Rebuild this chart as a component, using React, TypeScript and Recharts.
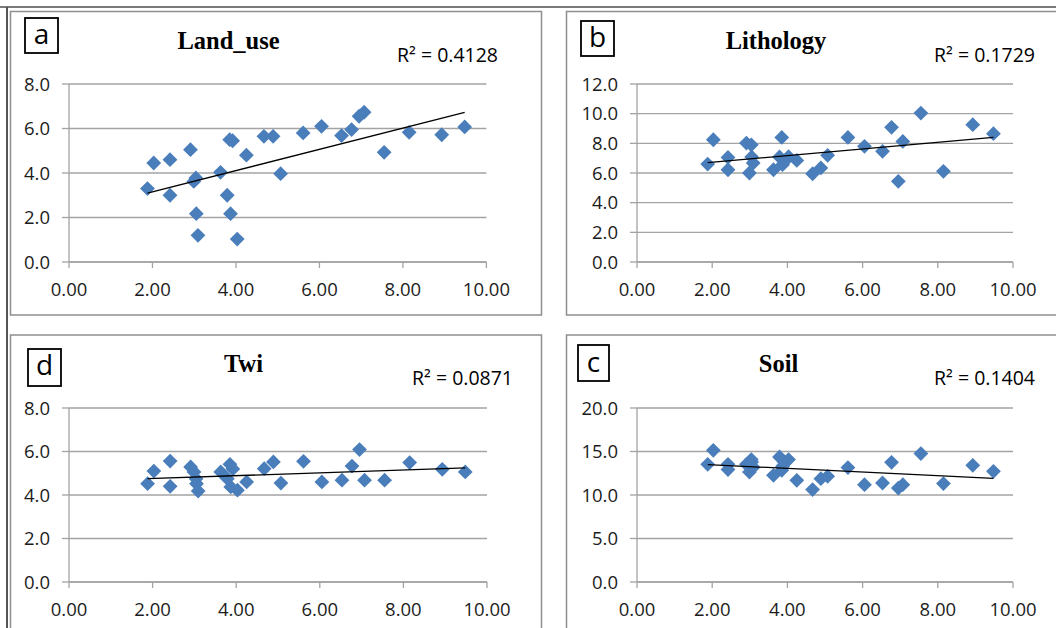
import React from "react";
import { ScatterChart, Scatter, XAxis, YAxis, CartesianGrid } from "recharts";

// shared x values (same samples in every panel)
const X_VALUES = [
  1.88, 2.03, 2.42, 2.42, 2.91, 2.99, 3.04, 3.05, 3.09, 3.63, 3.79, 3.85, 3.87, 3.92, 4.03,
  4.25, 4.67, 4.89, 5.07, 5.61, 6.05, 6.53, 6.77, 6.95, 7.07, 7.55, 8.15, 8.93, 9.48,
];

const LAND_USE = [
  3.3, 4.45, 4.6, 3.0, 5.05, 3.62, 3.78, 2.17, 1.2, 4.03, 3.0, 5.5, 2.17, 5.45, 1.03,
  4.8, 5.65, 5.65, 3.97, 5.8, 6.1, 5.68, 5.95, 6.55, 6.73, 4.93, 5.83, 5.72, 6.07,
];
const LITHOLOGY = [
  6.6, 8.24, 7.05, 6.22, 8.02, 6.0, 7.9, 7.08, 6.67, 6.22, 7.08, 8.4, 6.56, 6.78, 7.1,
  6.85, 5.95, 6.34, 7.19, 8.4, 7.8, 7.46, 9.08, 5.44, 8.13, 10.04, 6.11, 9.26, 8.65,
];
const TWI = [
  4.52, 5.1, 5.56, 4.4, 5.29, 5.06, 4.75, 4.52, 4.18, 5.06, 4.75, 5.41, 4.37, 5.2, 4.22,
  4.6, 5.21, 5.52, 4.55, 5.55, 4.6, 4.68, 5.33, 6.09, 4.68, 4.68, 5.49, 5.18, 5.06,
];
const SOIL = [
  13.53, 15.14, 13.53, 12.92, 13.53, 12.64, 14.07, 13.8, 13.2, 12.26, 14.37, 12.84, 13.3, 13.8, 14.07,
  11.69, 10.62, 11.88, 12.15, 13.15, 11.19, 11.38, 13.76, 10.8, 11.19, 14.76, 11.31, 13.41, 12.72,
];

// linear trendline end points
const TREND_X = [1.88, 9.48];
const TREND_LAND_USE = [3.1, 6.72];
const TREND_LITHOLOGY = [6.7, 8.4];
const TREND_TWI = [4.75, 5.25];
const TREND_SOIL = [13.5, 11.9];

const X_TICKS = [0, 2, 4, 6, 8, 10];
const Y_TICKS_8 = [0, 2, 4, 6, 8];
const Y_TICKS_12 = [0, 2, 4, 6, 8, 10, 12];
const Y_TICKS_20 = [0, 5, 10, 15, 20];

const MARKER = "#4a7ebb";
const GRID = "#a3a3a3";
const TICK_FONT = { fontSize: 18.5, fill: "#1c1c1c", fontFamily: "'Open Sans', sans-serif" };

const toPoints = (ys: number[]) => X_VALUES.map((x, i) => ({ x, y: ys[i] }));
const toTrend = (ys: number[]) => TREND_X.map((x, i) => ({ x, y: ys[i] }));

function Diamond(props: any) {
  const { cx, cy } = props;
  if (cx == null || cy == null) return null;
  const r = 7.4;
  return <path d={`M${cx},${cy - r}L${cx + r},${cy}L${cx},${cy + r}L${cx - r},${cy}Z`} fill={MARKER} />;
}

type Plot = { left: number; top: number; width: number; height: number };

function Panel({ plot, ys, trend, yTicks }: { plot: Plot; ys: number[]; trend: number[]; yTicks: number[] }) {
  const yw = 62;
  const mt = 18;
  const mr = 34;
  const xh = 42;
  return (
    <div style={{ position: "absolute", left: plot.left - yw, top: plot.top - mt }}>
      <ScatterChart
        width={plot.width + yw + mr}
        height={plot.height + mt + xh}
        margin={{ top: mt, right: mr, left: 0, bottom: 0 }}
        style={{ overflow: "visible" }}
      >
        <CartesianGrid vertical={false} stroke={GRID} strokeWidth={1.3} />
        <XAxis
          type="number"
          dataKey="x"
          domain={[0, 10]}
          ticks={X_TICKS}
          interval={0}
          height={xh}
          tickFormatter={(v) => Number(v).toFixed(2)}
          tick={TICK_FONT}
          tickSize={6}
          tickMargin={15}
          stroke={GRID}
          strokeWidth={1.3}
        />
        <YAxis
          type="number"
          dataKey="y"
          domain={[yTicks[0], yTicks[yTicks.length - 1]]}
          ticks={yTicks}
          interval={0}
          width={yw}
          tickFormatter={(v) => Number(v).toFixed(1)}
          tick={TICK_FONT}
          tickSize={7}
          tickMargin={12}
          stroke={GRID}
          strokeWidth={1.3}
        />
        <Scatter data={toPoints(ys)} shape={<Diamond />} isAnimationActive={false} />
        <Scatter
          data={toTrend(trend)}
          line={{ stroke: "#000", strokeWidth: 1.3 }}
          shape={() => <g />}
          isAnimationActive={false}
        />
      </ScatterChart>
    </div>
  );
}

const titleStyle = { fontFamily: "'Liberation Serif', 'Times New Roman', serif", fontWeight: 700, fontSize: 24.5 };
const r2Style = { fontFamily: "'Open Sans', sans-serif", fontSize: 19.5 };
const letterStyle = { fontFamily: "'Open Sans', sans-serif", fontSize: 28 };

function Overlay() {
  const frame = "#8e8e8e";
  return (
    <svg width={1056} height={628} style={{ position: "absolute", left: 0, top: 0, pointerEvents: "none" }}>
      <line x1={0} y1={7} x2={1056} y2={7} stroke="#7a7a7a" strokeWidth={2} />
      <line x1={7} y1={7} x2={7} y2={628} stroke="#555" strokeWidth={2} />
      {/* panel frames */}
      <rect x={10.5} y={11.5} width={531} height={303.5} fill="none" stroke={frame} strokeWidth={1.5} />
      <rect x={566.5} y={11.5} width={500} height={303.5} fill="none" stroke={frame} strokeWidth={1.5} />
      <rect x={10.5} y={335} width={531} height={310} fill="none" stroke={frame} strokeWidth={1.5} />
      <rect x={566.5} y={335} width={500} height={310} fill="none" stroke={frame} strokeWidth={1.5} />

      {/* letter boxes */}
      <rect x={25} y={18} width={33} height={35} fill="#fff" stroke="#000" strokeWidth={1.8} />
      <text x={41.5} y={43.5} textAnchor="middle" style={letterStyle}>a</text>
      <rect x={581} y={21} width={33} height={35} fill="#fff" stroke="#000" strokeWidth={1.8} />
      <text x={597.5} y={47} textAnchor="middle" style={letterStyle}>b</text>
      <rect x={28} y={349} width={33} height={37} fill="#fff" stroke="#000" strokeWidth={1.8} />
      <text x={44.5} y={375} textAnchor="middle" style={letterStyle}>d</text>
      <rect x={578} y={345} width={31} height={36} fill="#fff" stroke="#000" strokeWidth={1.8} />
      <text x={593.5} y={372} textAnchor="middle" style={letterStyle}>c</text>

      {/* titles */}
      <text x={228.5} y={49} textAnchor="middle" style={titleStyle}>Land_use</text>
      <text x={776} y={49} textAnchor="middle" style={titleStyle}>Lithology</text>
      <text x={243.5} y={371.5} textAnchor="middle" style={titleStyle}>Twi</text>
      <text x={778.5} y={371.5} textAnchor="middle" style={titleStyle}>Soil</text>

      {/* R squared */}
      <text x={498} y={62} textAnchor="end" style={r2Style}>R² = 0.4128</text>
      <text x={1035} y={62} textAnchor="end" style={r2Style}>R² = 0.1729</text>
      <text x={513} y={385} textAnchor="end" style={r2Style}>R² = 0.0871</text>
      <text x={1035} y={385} textAnchor="end" style={r2Style}>R² = 0.1404</text>
    </svg>
  );
}

export default function App() {
  return (
    <div style={{ position: "absolute", left: 0, top: 0, width: 1056, height: 628, background: "#fff", overflow: "hidden" }}>
      <Overlay />
      <Panel plot={{ left: 69.3, top: 84.3, width: 417.4, height: 178 }} ys={LAND_USE} trend={TREND_LAND_USE} yTicks={Y_TICKS_8} />
      <Panel plot={{ left: 637.3, top: 84.3, width: 376, height: 178 }} ys={LITHOLOGY} trend={TREND_LITHOLOGY} yTicks={Y_TICKS_12} />
      <Panel plot={{ left: 69.3, top: 407.7, width: 418, height: 174 }} ys={TWI} trend={TREND_TWI} yTicks={Y_TICKS_8} />
      <Panel plot={{ left: 637.3, top: 407.7, width: 376, height: 174 }} ys={SOIL} trend={TREND_SOIL} yTicks={Y_TICKS_20} />
    </div>
  );
}
